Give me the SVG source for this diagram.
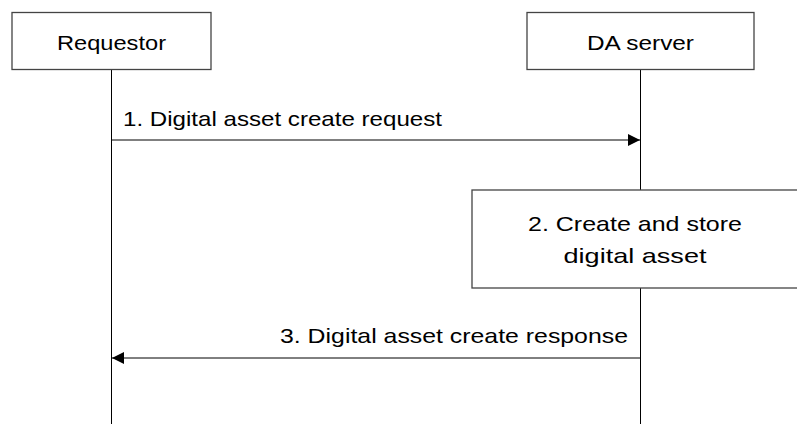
<svg xmlns="http://www.w3.org/2000/svg" width="797" height="424" viewBox="0 0 797 424">
<defs>
<style>
.box{fill:#fff;stroke:#444;stroke-width:1.3}
.life{stroke:#000;stroke-width:1;fill:none}
.msg{stroke:#000;stroke-width:1;fill:none}
text{font-family:"Liberation Sans",Arial,sans-serif;font-size:21px;fill:#000}
</style>
<marker id="ah" markerWidth="12" markerHeight="12" refX="12" refY="6" orient="auto" markerUnits="userSpaceOnUse">
<path d="M0,0 L12,6 L0,12 Z" fill="#000"/>
</marker>
</defs>
<rect width="797" height="424" fill="#fff"/>
<g id="lifelines">
<line class="life" x1="111.5" y1="69" x2="111.5" y2="424"/>
<line class="life" x1="640.5" y1="69" x2="640.5" y2="190"/>
<line class="life" x1="640.5" y1="288" x2="640.5" y2="424"/>
</g>
<g id="requestor">
<rect class="box" x="12" y="12.5" width="199" height="57"/>
<text x="111.5" y="50" text-anchor="middle" textLength="109" lengthAdjust="spacingAndGlyphs">Requestor</text>
</g>
<g id="da-server">
<rect class="box" x="527" y="12.5" width="227" height="57"/>
<text x="640.5" y="50" text-anchor="middle" textLength="107" lengthAdjust="spacingAndGlyphs">DA server</text>
</g>
<g id="step2">
<rect class="box" x="472" y="190" width="340" height="98"/>
<text x="635" y="231" text-anchor="middle" textLength="214" lengthAdjust="spacingAndGlyphs">2. Create and store</text>
<text x="635" y="263" text-anchor="middle" textLength="143" lengthAdjust="spacingAndGlyphs">digital asset</text>
</g>
<g id="connectors">
<line class="msg" x1="111.5" y1="140" x2="640" y2="140" marker-end="url(#ah)"/>
<text x="123" y="126" textLength="319" lengthAdjust="spacingAndGlyphs">1. Digital asset create request</text>
<line class="msg" x1="640.5" y1="358" x2="112" y2="358" marker-end="url(#ah)"/>
<text x="628" y="343" text-anchor="end" textLength="348" lengthAdjust="spacingAndGlyphs">3. Digital asset create response</text>
</g>
</svg>
